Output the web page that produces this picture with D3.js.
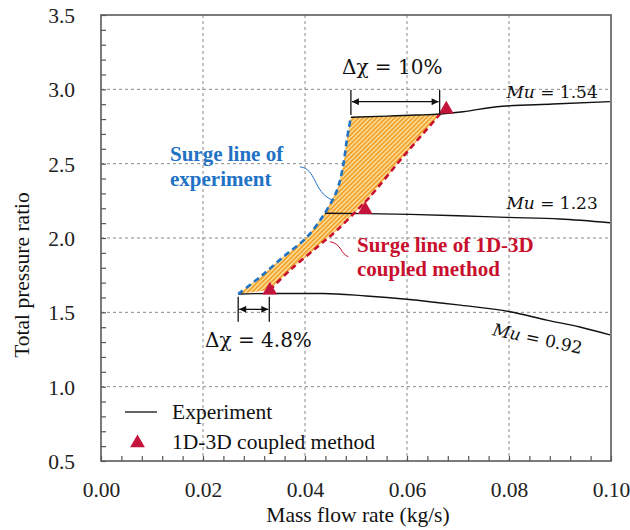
<!DOCTYPE html>
<html lang="en">
<head>
    <meta charset="UTF-8">
    <title>Surge line comparison</title>
    <script src="https://d3js.org/d3.v7.min.js"></script>
    <style>
        body { margin: 0; background: #fff; }
        text { font-family: "Liberation Serif", "Times New Roman", serif; }
        .math { font-family: "DejaVu Serif", serif; }
    </style>
</head>
<body>
    <script>
        // speed lines (experiment), [mass flow, pressure ratio]
        const mu154 = [[0.0490, 2.812], [0.0560, 2.820], [0.0620, 2.827], [0.0665, 2.834],
                       [0.0710, 2.849], [0.0776, 2.883], [0.0886, 2.901], [0.0998, 2.917]];
        const mu123 = [[0.0439, 2.166], [0.0520, 2.164], [0.0606, 2.159], [0.0700, 2.150],
                       [0.0795, 2.139], [0.0900, 2.128], [0.0998, 2.103]];
        const mu092 = [[0.0269, 1.623], [0.0331, 1.627], [0.0435, 1.627], [0.0520, 1.610],
                       [0.0599, 1.588], [0.0700, 1.550], [0.0802, 1.504], [0.0874, 1.448],
                       [0.0939, 1.401], [0.0998, 1.348]];
        // surge lines
        const surgeExp = [[0.0269, 1.623], [0.0312, 1.738], [0.0357, 1.872], [0.0404, 2.007],
                          [0.0439, 2.168], [0.0463, 2.323], [0.0475, 2.491], [0.0482, 2.659],
                          [0.0490, 2.814]];
        const surgeSim = [[0.0331, 1.650], [0.0371, 1.785], [0.0424, 1.939], [0.0463, 2.054],
                          [0.0508, 2.208], [0.0527, 2.276], [0.0592, 2.545], [0.0665, 2.834]];
        // 1D-3D coupled method points
        const simX = [0.0331, 0.0518, 0.0677];
        const simY = [1.648, 2.190, 2.866];

        const xTicks = d3.range(0, 0.1001, 0.004);
        const yTicks = d3.range(0.5, 3.5001, 0.1);
        const xLabels = [0, 0.02, 0.04, 0.06, 0.08, 0.10];
        const yLabels = [0.5, 1.0, 1.5, 2.0, 2.5, 3.0, 3.5];

        const w = 630, h = 530;
        const pL = 101, pR = 611, pT = 15, pB = 461;
        const red = "#c8102e", blue = "#1f72c4";

        const svg = d3.select("body").append("svg")
            .attr("width", w).attr("height", h);

        const x = d3.scaleLinear().domain([0, 0.10]).range([pL, pR]);
        const y = d3.scaleLinear().domain([0.5, 3.5]).range([pB, pT]);

        const defs = svg.append("defs");
        const pat = defs.append("pattern")
            .attr("id", "hatch")
            .attr("patternUnits", "userSpaceOnUse")
            .attr("width", 3.2).attr("height", 3.2)
            .attr("patternTransform", "rotate(45)");
        pat.append("rect").attr("width", 3.2).attr("height", 3.2).attr("fill", "#fde6a8");
        pat.append("rect").attr("width", 1.9).attr("height", 3.2).attr("fill", "#f2a12c");

        defs.append("marker")
            .attr("id", "arr")
            .attr("viewBox", "0 0 10 10")
            .attr("refX", 10).attr("refY", 5)
            .attr("markerWidth", 8).attr("markerHeight", 7)
            .attr("markerUnits", "userSpaceOnUse")
            .attr("orient", "auto-start-reverse")
            .append("path").attr("d", "M0,0L10,5L0,10z").attr("fill", "#111");

        // grid
        svg.append("g").selectAll("line")
            .data(xLabels.slice(1, -1))
            .enter().append("line")
            .attr("x1", d => x(d)).attr("x2", d => x(d))
            .attr("y1", pT).attr("y2", pB)
            .attr("stroke", "#8a8a8a").attr("stroke-dasharray", "3,3");
        svg.append("g").selectAll("line")
            .data(yLabels.slice(1, -1))
            .enter().append("line")
            .attr("y1", d => y(d)).attr("y2", d => y(d))
            .attr("x1", pL).attr("x2", pR)
            .attr("stroke", "#8a8a8a").attr("stroke-dasharray", "3,3");

        // axes with inward ticks
        const near = (a, b) => Math.abs(a - b) < 1e-6;
        const xAxis = svg.append("g")
            .attr("transform", `translate(0,${pB})`)
            .call(d3.axisBottom(x).tickValues(xTicks).tickSize(-5)
                .tickFormat(d => xLabels.some(v => near(v, d)) ? d3.format(".2f")(d) : ""));
        xAxis.selectAll("text").attr("y", 36).attr("dy", 0)
            .attr("font-size", 21.5).attr("fill", "#222")
            .style("font-family", "Liberation Serif");
        const yAxis = svg.append("g")
            .attr("transform", `translate(${pL},0)`)
            .call(d3.axisLeft(y).tickValues(yTicks).tickSize(-5)
                .tickFormat(d => yLabels.some(v => near(v, d)) ? d3.format(".1f")(d) : ""));
        yAxis.selectAll("text").attr("x", -26).attr("dy", "0.35em")
            .attr("font-size", 21.5).attr("fill", "#222")
            .style("font-family", "Liberation Serif");
        svg.selectAll(".domain").remove();
        svg.selectAll(".tick line").attr("stroke", "#555").attr("stroke-width", 1.2);

        // frame
        svg.append("rect")
            .attr("x", pL).attr("y", pT)
            .attr("width", pR - pL).attr("height", pB - pT)
            .attr("fill", "none").attr("stroke", "#5a5a5a").attr("stroke-width", 1.6);

        // hatched region between surge lines
        const topEdge = mu154.filter(d => d[0] > surgeExp[surgeExp.length - 1][0] && d[0] < surgeSim[surgeSim.length - 1][0]);
        const region = surgeExp.concat(topEdge, surgeSim.slice().reverse());
        svg.append("path")
            .datum(region)
            .attr("d", d3.line().x(d => x(d[0])).y(d => y(d[1])))
            .attr("fill", "url(#hatch)");

        // experiment lines
        const smooth = d3.line().x(d => x(d[0])).y(d => y(d[1])).curve(d3.curveMonotoneX);
        [mu154, mu123, mu092].forEach(s => {
            svg.append("path").datum(s)
                .attr("d", smooth)
                .attr("fill", "none").attr("stroke", "#111").attr("stroke-width", 1.4);
        });

        // surge lines
        const catmull = d3.line().x(d => x(d[0])).y(d => y(d[1])).curve(d3.curveCatmullRom);
        svg.append("path").datum(surgeExp)
            .attr("d", catmull)
            .attr("fill", "none").attr("stroke", blue).attr("stroke-width", 2.6)
            .attr("stroke-dasharray", "6,4");
        svg.append("path").datum(surgeSim)
            .attr("d", catmull)
            .attr("fill", "none").attr("stroke", red).attr("stroke-width", 2.6)
            .attr("stroke-dasharray", "6,4");

        // 1D-3D points
        const tri = d3.symbol().type(d3.symbolTriangle).size(95);
        svg.append("g").selectAll("path")
            .data(simX)
            .enter().append("path")
            .attr("d", tri)
            .attr("transform", (d, i) => `translate(${x(d)},${y(simY[i])})`)
            .attr("fill", "#c4143c");

        // delta arrows
        function bracket(x0, x1, yTop, yBot, yArr) {
            const g = svg.append("g").attr("stroke", "#111").attr("stroke-width", 1.3);
            [x0, x1].forEach(v => g.append("line")
                .attr("x1", x(v)).attr("x2", x(v))
                .attr("y1", y(yTop)).attr("y2", y(yBot)));
            g.append("line")
                .attr("x1", x(x0) + 1).attr("x2", x(x1) - 1)
                .attr("y1", y(yArr)).attr("y2", y(yArr))
                .attr("marker-start", "url(#arr)").attr("marker-end", "url(#arr)");
        }
        bracket(0.0490, 0.0664, 2.995, 2.827, 2.917);
        bracket(0.0269, 0.0330, 1.605, 1.437, 1.520);

        svg.append("text").attr("class", "math")
            .attr("x", x(0.0571)).attr("y", y(3.103))
            .attr("text-anchor", "middle").attr("font-size", 20).attr("fill", "#111")
            .text("Δχ = 10%");
        svg.append("text").attr("class", "math")
            .attr("x", x(0.0204)).attr("y", y(1.265))
            .attr("font-size", 20).attr("fill", "#111")
            .text("Δχ = 4.8%");

        // speed labels
        function muLabel(px, py, val, rot) {
            const t = svg.append("text").attr("class", "math")
                .attr("transform", `translate(${x(px)},${y(py)}) rotate(${rot})`)
                .attr("font-size", 17).attr("fill", "#111");
            t.append("tspan").attr("font-style", "italic").text("Mu");
            t.append("tspan").text(" = " + val);
        }
        muLabel(0.0795, 2.940, "1.54", 0);
        muLabel(0.0795, 2.195, "1.23", 0);
        muLabel(0.0766, 1.348, "0.92", 12);

        // surge line captions with leader curves
        const bt = svg.append("text").attr("font-size", 21).attr("font-weight", "bold").attr("fill", blue);
        bt.append("tspan").attr("x", 170).attr("y", 161).text("Surge line of");
        bt.append("tspan").attr("x", 170).attr("y", 186).text("experiment");
        svg.append("path")
            .attr("d", `M${x(0.0390)},${y(2.478)}C${x(0.0422)},${y(2.471)} ${x(0.0416)},${y(2.309)} ${x(0.0453)},${y(2.256)}`)
            .attr("fill", "none").attr("stroke", blue).attr("stroke-width", 1);

        const rt = svg.append("text").attr("font-size", 21).attr("font-weight", "bold").attr("fill", red);
        rt.append("tspan").attr("x", 357).attr("y", 252).text("Surge line of 1D-3D");
        rt.append("tspan").attr("x", 357).attr("y", 276).text("coupled method");
        svg.append("path")
            .attr("d", `M${x(0.0449)},${y(1.975)}C${x(0.0473)},${y(1.960)} ${x(0.0469)},${y(1.892)} ${x(0.0485)},${y(1.874)}`)
            .attr("fill", "none").attr("stroke", red).attr("stroke-width", 1);

        // legend
        const lg = svg.append("g");
        lg.append("line").attr("x1", 125).attr("x2", 157).attr("y1", 412).attr("y2", 412)
            .attr("stroke", "#111").attr("stroke-width", 1.3);
        lg.append("text").attr("x", 172).attr("y", 419).attr("font-size", 21.5).attr("fill", "#111")
            .text("Experiment");
        lg.append("path").attr("d", tri).attr("transform", "translate(137.5,443)").attr("fill", "#c4143c");
        lg.append("text").attr("x", 172).attr("y", 449).attr("font-size", 21.5).attr("fill", "#111")
            .text("1D-3D coupled method");

        // axis titles
        svg.append("text")
            .attr("x", 358).attr("y", 522)
            .attr("text-anchor", "middle").attr("font-size", 21.5).attr("fill", "#111")
            .text("Mass flow rate (kg/s)");
        svg.append("text")
            .attr("transform", "translate(29,275) rotate(-90)")
            .attr("text-anchor", "middle").attr("font-size", 21.5).attr("fill", "#111")
            .text("Total pressure ratio");
    </script>
</body>
</html>
